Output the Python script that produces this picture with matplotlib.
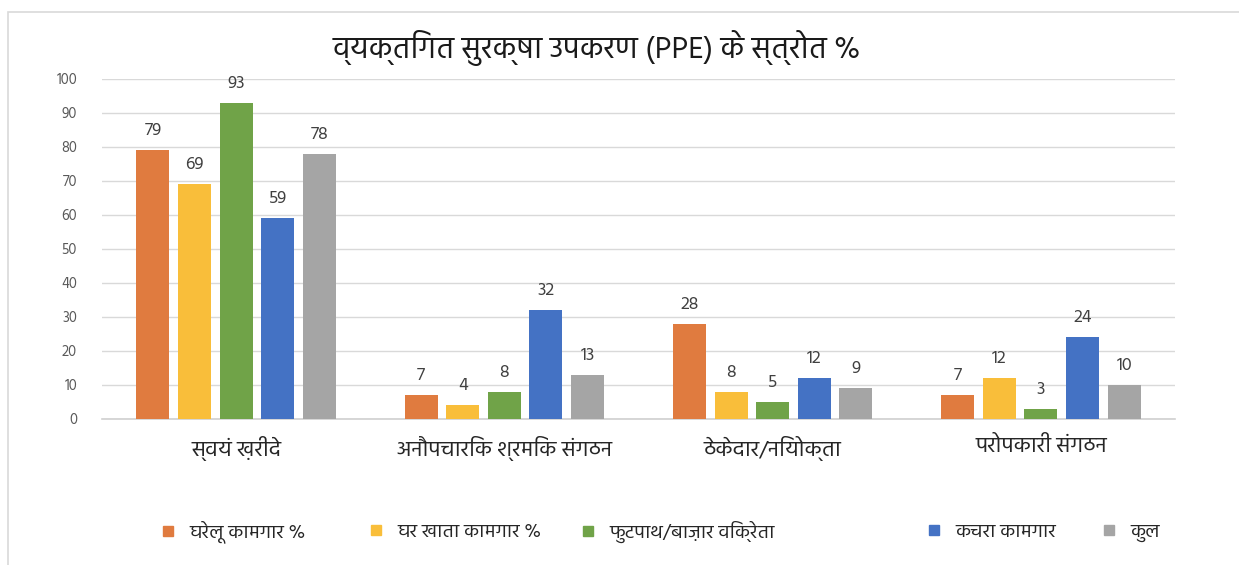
import matplotlib
matplotlib.use("Agg")
import matplotlib.pyplot as plt
from matplotlib import font_manager
from matplotlib.patches import Rectangle
from matplotlib.lines import Line2D
import numpy as np

# ---- data ----
categories = ["स्वयं ख़रीदे", "अनौपचारिक श्रमिक संगठन", "ठेकेदार/नियोक्ता", "परोपकारी संगठन"]
series_names = ["घरेलू कामगार %", "घर खाता कामगार %", "फुटपाथ/बाज़ार विक्रेता", "कचरा कामगार", "कुल"]
domestic = [79, 7, 28, 7]
homebased = [69, 4, 8, 12]
vendors = [93, 8, 5, 3]
wastepickers = [59, 32, 12, 24]
total = [78, 13, 9, 10]
yticks = [0, 10, 20, 30, 40, 50, 60, 70, 80, 90, 100]
title = "व्यक्तिगत सुरक्षा उपकरण (PPE) के स्त्रोत %"

series = [domestic, homebased, vendors, wastepickers, total]
colors = ["#E07B3F", "#F9BE3A", "#70A348", "#4472C4", "#A5A5A5"]

# ---- pick a font with Devanagari ----
available = set(f.name for f in font_manager.fontManager.ttflist)
prefs = ["Hind", "Noto Sans Devanagari", "Mukta", "Yantramanav", "Khula", "Noto Sans"]
deva = next((p for p in prefs if p in available), "Noto Sans")
families = [deva, "Noto Sans", "DejaVu Sans"]
plt.rcParams["font.family"] = families

W, H = 1239, 565
fig = plt.figure(figsize=(W / 100, H / 100), dpi=100)
fig.patch.set_facecolor("white")

# frame
fig.patches.append(Rectangle((8 / W, -0.1), 1.2, 1 - 12 / H + 0.1, transform=fig.transFigure,
                             fill=False, edgecolor="#D9D9D9", linewidth=1.2))

ax = fig.add_axes([102 / W, 1 - 419 / H, (1175 - 102) / W, (419 - 79) / H])
x = np.arange(len(categories))
stride = 0.155
bw = 0.123
for i, (vals, c) in enumerate(zip(series, colors)):
    pos = x + (i - 2) * stride
    bars = ax.bar(pos, vals, width=bw, color=c, zorder=3)
    for b, v in zip(bars, vals):
        ax.text(b.get_x() + b.get_width() / 2, v + 5.8, str(v), ha="center", va="center",
                fontsize=13, color="#404040")

ax.set_xlim(-0.5, len(categories) - 0.5)
ax.set_ylim(0, 100)
ax.set_yticks(yticks)
ax.set_yticklabels([str(t) for t in yticks], fontsize=10.5, color="#595959")
ax.tick_params(axis="y", length=0, pad=18)
ax.tick_params(axis="x", length=0, pad=12)
ax.set_xticks(x)
ax.set_xticklabels(categories, fontsize=16, color="#262626")
ax.grid(axis="y", color="#D9D9D9", linewidth=1, zorder=0)
for s in ["top", "right", "left"]:
    ax.spines[s].set_visible(False)
ax.spines["bottom"].set_color("#D0D0D0")
ax.spines["bottom"].set_linewidth(1.2)

fig.text(597 / W, 1 - 48 / H, title, ha="center", va="center", fontsize=22, color="#1a1a1a")

# legend items placed individually
leg_x = [141, 349, 561, 907, 1082]
for name, c, lx in zip(series_names, colors, leg_x):
    h = Line2D([], [], marker="s", linestyle="none", markersize=7, color=c)
    fig.legend([h], [name], loc="center left", bbox_to_anchor=(lx / W, 1 - 532 / H),
               frameon=False, fontsize=14, handletextpad=0.6, labelcolor="#262626",
               handlelength=1.0)

fig.savefig("out.png", dpi=100)
